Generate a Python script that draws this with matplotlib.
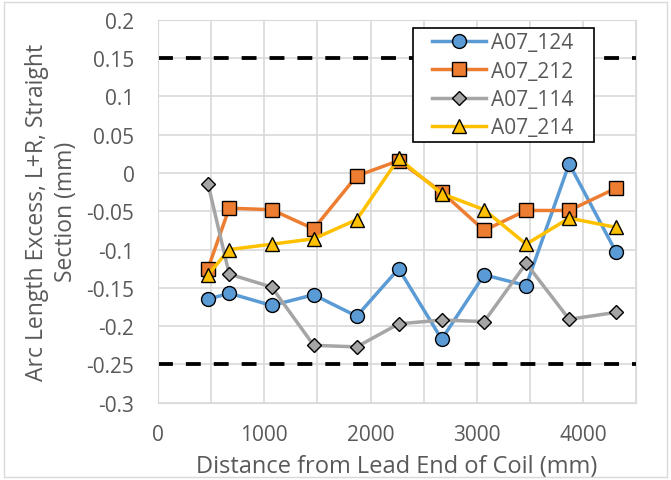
import matplotlib.pyplot as plt
from matplotlib.patches import Rectangle
from matplotlib.lines import Line2D
from matplotlib.legend_handler import HandlerLine2D
from matplotlib.ticker import MultipleLocator, FuncFormatter

plt.rcParams['font.family'] = ['Open Sans', 'DejaVu Sans']

# Data
distance = [470, 670, 1070, 1465, 1870, 2265, 2670, 3070, 3465, 3870, 4310]
a07_124 = [-0.165, -0.157, -0.173, -0.159, -0.187, -0.125, -0.217, -0.133, -0.147, 0.012, -0.103]
a07_212 = [-0.125, -0.046, -0.048, -0.073, -0.004, 0.016, -0.025, -0.075, -0.049, -0.049, -0.020]
a07_114 = [-0.014, -0.132, -0.149, -0.225, -0.227, -0.197, -0.192, -0.194, -0.118, -0.191, -0.182]
a07_214 = [-0.133, -0.100, -0.093, -0.086, -0.061, 0.019, -0.027, -0.048, -0.093, -0.059, -0.071]
limits = [0.15, -0.25]

text_color = '#595959'
grid_color = '#D9D9D9'

fig = plt.figure(figsize=(6.71, 4.81), dpi=100)
ax = fig.add_axes([0.2355, 0.1605, 0.7125, 0.7965])

# Light border around the whole chart area
fig.patches.append(Rectangle((0.006, 0.006), 0.988, 0.988, transform=fig.transFigure,
                             fill=False, edgecolor=grid_color, linewidth=1))

for y in limits:
    ax.axhline(y, color='black', linewidth=2.75, linestyle=(0, (3.9, 3.4)), zorder=2)

series = [
    ('A07_124', a07_124, '#5B9BD5', 'o', 10),
    ('A07_212', a07_212, '#ED7D31', 's', 10),
    ('A07_114', a07_114, '#A5A5A5', 'D', 7),
    ('A07_214', a07_214, '#FFC000', '^', 10),
]
for name, vals, color, marker, ms in series:
    ax.plot(distance, vals, color=color, linewidth=2.5, marker=marker, markersize=ms,
            markerfacecolor=color, markeredgecolor='black', markeredgewidth=1.0,
            label=name + '   ', zorder=3)

ax.set_xlim(0, 4500)
ax.set_ylim(-0.3, 0.2)
ax.xaxis.set_major_locator(MultipleLocator(500))
ax.yaxis.set_major_locator(MultipleLocator(0.05))
ax.xaxis.set_major_formatter(FuncFormatter(lambda v, p: f'{int(v)}' if v % 1000 == 0 else ''))
ax.yaxis.set_major_formatter(FuncFormatter(lambda v, p: f'{round(v, 2):g}'))
ax.grid(True, color=grid_color, linewidth=1.2, zorder=0)
ax.set_axisbelow(True)
ax.tick_params(length=0, labelsize=15, colors=text_color)
ax.tick_params(axis='x', pad=15)
ax.tick_params(axis='y', pad=17)
for s in ax.spines.values():
    s.set_color(grid_color)

ax.set_xlabel('Distance from Lead End of Coil (mm)', fontsize=17, color=text_color, labelpad=7)
ax.set_ylabel('Arc Length Excess, L+R, Straight\nSection (mm)', fontsize=16.5, color=text_color,
              labelpad=6, linespacing=1.3)

leg = ax.legend(loc='upper left', bbox_to_anchor=(0.533, 0.978), fontsize=15, frameon=True,
                fancybox=False, edgecolor='black', framealpha=1, handlelength=3.3,
                borderpad=0.2, labelspacing=0.35, handletextpad=0.25, borderaxespad=0,
                handler_map={Line2D: HandlerLine2D(xpad=0.7)})
for t in leg.get_texts():
    t.set_color(text_color)
leg.get_frame().set_linewidth(1.2)

fig.savefig('out.png', dpi=100)
